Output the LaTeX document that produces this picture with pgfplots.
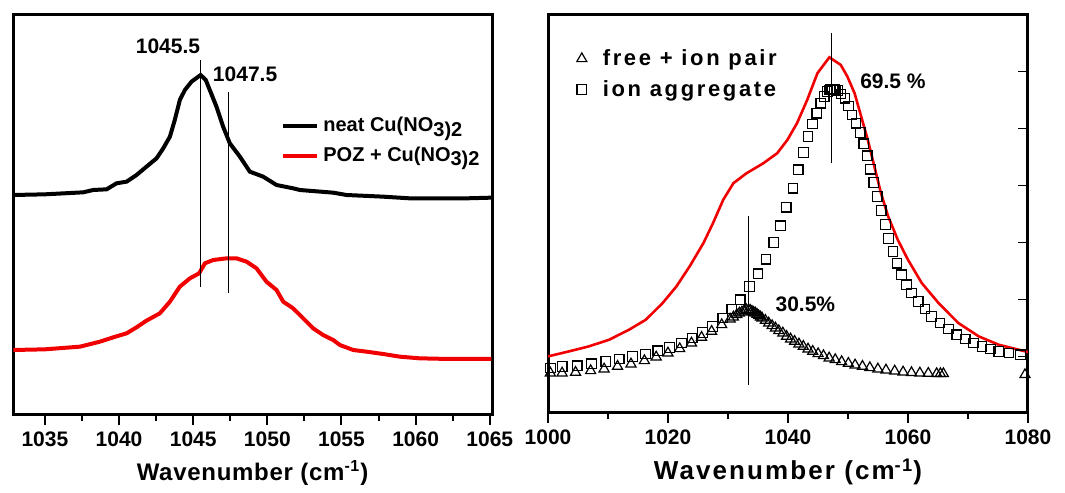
\documentclass[border=0pt]{standalone}
\usepackage{fontspec}
\setmainfont{Liberation Sans}
\newfontfamily\spaced[LetterSpace=8]{Liberation Sans}
\newfontfamily\lspaced[LetterSpace=3]{Liberation Sans}
\newfontfamily\wide[LetterSpace=12]{Liberation Sans}
\usepackage{pgfplots}
\pgfplotsset{compat=1.18}

\definecolor{specred}{RGB}{240,0,0}

\pgfplotsset{
  specaxis/.style={
    scale only axis,
    axis line style={line width=1.5pt},
    tick align=outside,
    major tick length=5pt,
    minor tick length=3pt,
    every tick/.style={black, line width=1pt},
    xtick pos=bottom,
    ticklabel style={font=\bfseries\fontsize{10.5}{12}\selectfont},
    /pgf/number format/assume math mode=true,
    /pgf/number format/set thousands separator={},
    legend cell align=left,
  },
}

\begin{document}
\begin{tikzpicture}
\path (0,0) rectangle (532.5pt,243.5pt);

% left panel
\begin{axis}[specaxis,
  at={(6.5pt,36pt)}, anchor=south west,
  width=239.5pt, height=200pt,
  xmin=1032.85, xmax=1065.15, ymin=0, ymax=1200,
  xtick={1035,1040,...,1065}, minor xtick={1037.5,1042.5,...,1062.5},
  ytick=\empty,
  xlabel={Wavenumber (cm\textsuperscript{-1})},
  xlabel style={font=\lspaced\bfseries\fontsize{12}{14}\selectfont, yshift=0pt},
  legend style={draw=none, fill=none, at={(0.555,0.76)}, anchor=north west,
    font=\bfseries\fontsize{10}{12}\selectfont, row sep=2pt,
    inner sep=1pt},
  legend image post style={line width=2pt},
]
\addplot[black, line width=2pt] coordinates {
  (1032.87,660) (1035.00,662) (1037.58,668) (1038.26,675) (1039.16,677)
  (1039.83,695) (1040.51,700) (1041.18,720) (1041.85,745) (1042.53,770)
  (1042.98,800) (1043.43,835) (1043.76,885) (1044.10,945) (1044.44,975)
  (1044.89,1000) (1045.50,1020) (1045.85,1005) (1046.12,975) (1046.57,925)
  (1047.02,865) (1047.47,815) (1048.15,775) (1048.82,730) (1049.72,715)
  (1050.62,690) (1051.74,680) (1052.19,675) (1054.44,667) (1055.34,660)
  (1057.81,655) (1059.61,650) (1063.43,650) (1065.10,652)
};
\addlegendentry{neat Cu(NO\raisebox{-0.4ex}{3)2}}
\addplot[specred, line width=2pt] coordinates {
  (1032.87,195) (1035.00,197) (1037.36,205) (1038.71,220) (1039.61,233)
  (1040.51,245) (1041.18,263) (1041.85,283) (1042.75,305) (1043.43,340)
  (1044.10,385) (1044.78,410) (1045.40,425) (1045.79,455) (1046.35,465)
  (1047.25,470) (1047.92,470) (1048.60,460) (1049.27,440) (1049.94,400)
  (1050.62,375) (1051.07,340) (1051.74,320) (1052.42,290) (1053.09,260)
  (1053.76,240) (1054.44,225) (1054.89,210) (1055.79,195) (1056.69,190)
  (1057.81,183) (1058.93,175) (1060.28,170) (1062.30,168) (1065.10,168)
};
\addlegendentry{POZ + Cu(NO\raisebox{-0.4ex}{3)2}}
\addplot[black, line width=0.5pt, forget plot] coordinates {(1045.5,385) (1045.5,1065)};
\addplot[black, line width=0.5pt, forget plot] coordinates {(1047.4,367) (1047.4,970)};
\node[font=\bfseries\fontsize{10.5}{12}\selectfont] at (axis cs:1043.3,1105) {1045.5};
\node[font=\bfseries\fontsize{10.5}{12}\selectfont] at (axis cs:1048.5,1023) {1047.5};
\end{axis}

% right panel
\begin{axis}[specaxis,
  at={(274pt,37pt)}, anchor=south west,
  width=240pt, height=199pt,
  xmin=1000, xmax=1080, ymin=0, ymax=1195,
  xtick={1000,1020,...,1080}, minor xtick={1010,1030,...,1070},
  ytick={170,341,512,683,854,1025}, yticklabels={},
  ytick pos=right,
  y tick style={xshift=-5pt, line width=0.8pt},
  xlabel={Wavenumber (cm\textsuperscript{-1})},
  xlabel style={font=\spaced\bfseries\fontsize{13}{15}\selectfont, yshift=0pt},
  legend style={draw=none, fill=none, at={(0.055,0.93)}, anchor=north west,
    font=\wide\bfseries\fontsize{11}{13}\selectfont, row sep=2pt,
    inner sep=1pt, /tikz/every odd column/.append style={column sep=6pt}},
]
\addplot[only marks, mark=triangle, mark size=2.9pt,
  mark options={draw=black, fill=white, line width=0.6pt}] coordinates {
  (1000.39,120) (1002.35,120) (1004.59,122) (1007.11,127) (1009.35,132)
  (1011.59,140) (1013.83,147) (1016.07,157) (1018.03,168) (1019.99,180)
  (1021.95,193) (1023.91,210) (1025.59,227) (1027.27,245) (1028.95,265)
  (1030.35,282) (1030.90,288) (1031.47,295) (1031.90,300) (1032.31,303)
  (1032.70,307) (1033.04,310) (1033.43,310) (1033.70,308) (1033.99,305)
  (1034.27,302) (1034.55,300) (1034.83,296) (1035.11,292) (1035.40,288)
  (1035.67,285) (1036.23,278) (1036.79,270) (1037.35,262) (1037.91,255)
  (1038.47,247) (1039.14,240) (1039.76,230) (1040.43,222) (1041.10,215)
  (1041.83,207) (1042.55,200) (1043.34,192) (1044.12,185) (1045.02,178)
  (1045.91,172) (1046.86,165) (1047.87,160) (1048.94,154) (1050.06,149)
  (1051.18,144) (1052.41,140) (1053.64,136) (1054.98,132) (1056.33,129)
  (1057.78,126) (1059.18,123) (1060.58,121) (1061.98,120) (1063.38,119)
  (1064.78,118) (1065.40,118) (1065.90,118) (1079.50,115)
};
\addlegendentry{free + ion pair}
\addplot[only marks, mark=square, mark size=2.4pt,
  mark options={draw=black, fill=white, line width=0.6pt}] coordinates {
  (1000.39,135) (1002.35,140) (1004.87,142) (1007.28,148) (1009.63,155)
  (1011.87,162) (1014.11,170) (1016.24,177) (1018.31,187) (1020.27,197)
  (1022.23,210) (1024.02,225) (1025.76,242) (1027.44,260) (1029.12,285)
  (1030.63,312) (1032.03,340) (1033.59,380) (1035.00,418) (1036.34,462)
  (1037.63,512) (1038.75,562) (1039.70,618) (1040.82,675) (1041.71,730)
  (1042.55,782) (1043.34,830) (1044.06,868) (1044.79,900) (1045.46,930)
  (1046.02,950) (1046.58,965) (1046.90,970) (1047.14,972) (1047.40,973)
  (1047.70,972) (1048.00,970) (1048.26,968) (1048.82,958) (1049.50,945)
  (1050.06,922) (1050.67,895) (1051.34,870) (1052.02,842) (1052.63,808)
  (1053.19,772) (1053.75,732) (1054.31,692) (1054.87,650) (1055.54,608)
  (1056.22,566) (1056.77,524) (1057.50,485) (1058.17,450) (1058.90,415)
  (1059.74,385) (1060.58,360) (1061.70,335) (1062.82,312) (1063.94,290)
  (1065.34,270) (1066.74,252) (1068.14,235) (1069.54,222) (1070.94,210)
  (1072.34,200) (1073.74,192) (1075.14,185) (1076.82,180) (1078.78,175)
};
\addlegendentry{ion aggregate}
\addplot[specred, line width=1.3pt, forget plot] coordinates {
  (1000.00,170) (1003.5,185) (1006.8,200) (1010.2,220) (1013.5,250)
  (1016.3,280) (1019.1,330) (1021.4,380) (1023.6,440) (1025.9,510)
  (1027.5,570) (1029.2,640) (1030.9,690) (1033.1,720) (1035.9,750)
  (1038.2,780) (1039.9,820) (1041.5,870) (1043.2,940) (1044.9,1020)
  (1046.9,1068) (1048.8,1045) (1049.9,1010) (1051.1,960) (1052.2,890)
  (1053.3,820) (1054.4,740) (1055.5,660) (1056.7,590) (1058.3,520)
  (1060.0,460) (1062.3,390) (1065.1,330) (1068.4,270) (1071.8,230)
  (1075.1,205) (1080.0,183)
};
\addplot[black, line width=0.5pt, forget plot] coordinates {(1033.4,85) (1033.4,590)};
\addplot[black, line width=0.5pt, forget plot] coordinates {(1047.3,750) (1047.3,1140)};
\node[font=\bfseries\fontsize{10.5}{12}\selectfont] at (axis cs:1042.9,325) {30.5\%};
\node[font=\bfseries\fontsize{10.5}{12}\selectfont] at (axis cs:1057.5,995) {69.5 \%};
\end{axis}
\end{tikzpicture}
\end{document}
